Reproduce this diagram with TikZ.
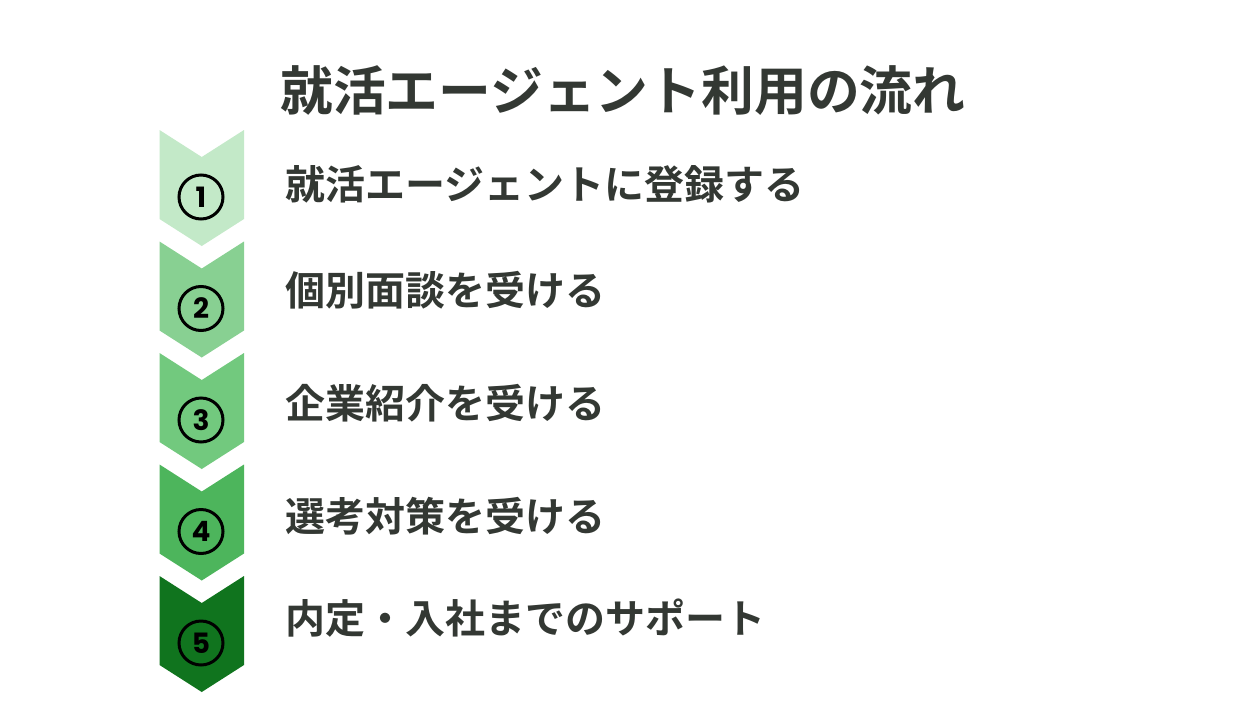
\documentclass[tikz,border=0pt]{standalone}
\usepackage{fontspec}
\newfontfamily\jpb{Noto Sans CJK JP Bold}
\newfontfamily\pop{Poppins}
\definecolor{txt}{RGB}{51,56,51}
\definecolor{cA}{RGB}{195,233,200}
\definecolor{cB}{RGB}{136,208,146}
\definecolor{cC}{RGB}{114,201,126}
\definecolor{cD}{RGB}{77,181,92}
\definecolor{cE}{RGB}{16,116,30}
\tikzset{
  numcircle/.style={circle, draw=black, line width=3pt, minimum size=44pt, inner sep=0pt,
    font=\pop\bfseries\fontsize{28}{28}\selectfont, text=black},
  steptext/.style={anchor=base west, inner sep=0pt, text=txt, font=\jpb\fontsize{40}{48}\selectfont},
  titletext/.style={anchor=base west, inner sep=0pt, text=txt, font=\jpb\fontsize{52.8}{60}\selectfont}
}
\newcommand{\chev}[2]{%
  \fill[#2] (159.5,#1) -- (201.75,#1+27) -- (244,#1) -- (244,#1+89) -- (201.75,#1+116) -- (159.5,#1+89) -- cycle;}
\begin{document}
\begin{tikzpicture}[x=1pt,y=-1pt]
\useasboundingbox (0,0) rectangle (1260,720);
\fill[white] (0,0) rectangle (1260,720);
\chev{130}{cA}
\chev{241.5}{cB}
\chev{353}{cC}
\chev{464.5}{cD}
\chev{576}{cE}
\node[numcircle] (n1) at (201,197) {1};
\node[numcircle] (n2) at (201,308.5) {2};
\node[numcircle] (n3) at (201,420) {3};
\node[numcircle] (n4) at (201,531.5) {4};
\node[numcircle] (n5) at (201,643) {5};
\node[titletext] (title) at (280,110) {就活エージェント利用の流れ};
\node[steptext] (s1) at (285,199) {就活エージェントに登録する};
\node[steptext] (s2) at (285,305) {個別面談を受ける};
\node[steptext] (s3) at (285,418) {企業紹介を受ける};
\node[steptext] (s4) at (285,531) {選考対策を受ける};
\node[steptext] (s5) at (285,633) {内定・入社までのサポート};
\end{tikzpicture}
\end{document}
